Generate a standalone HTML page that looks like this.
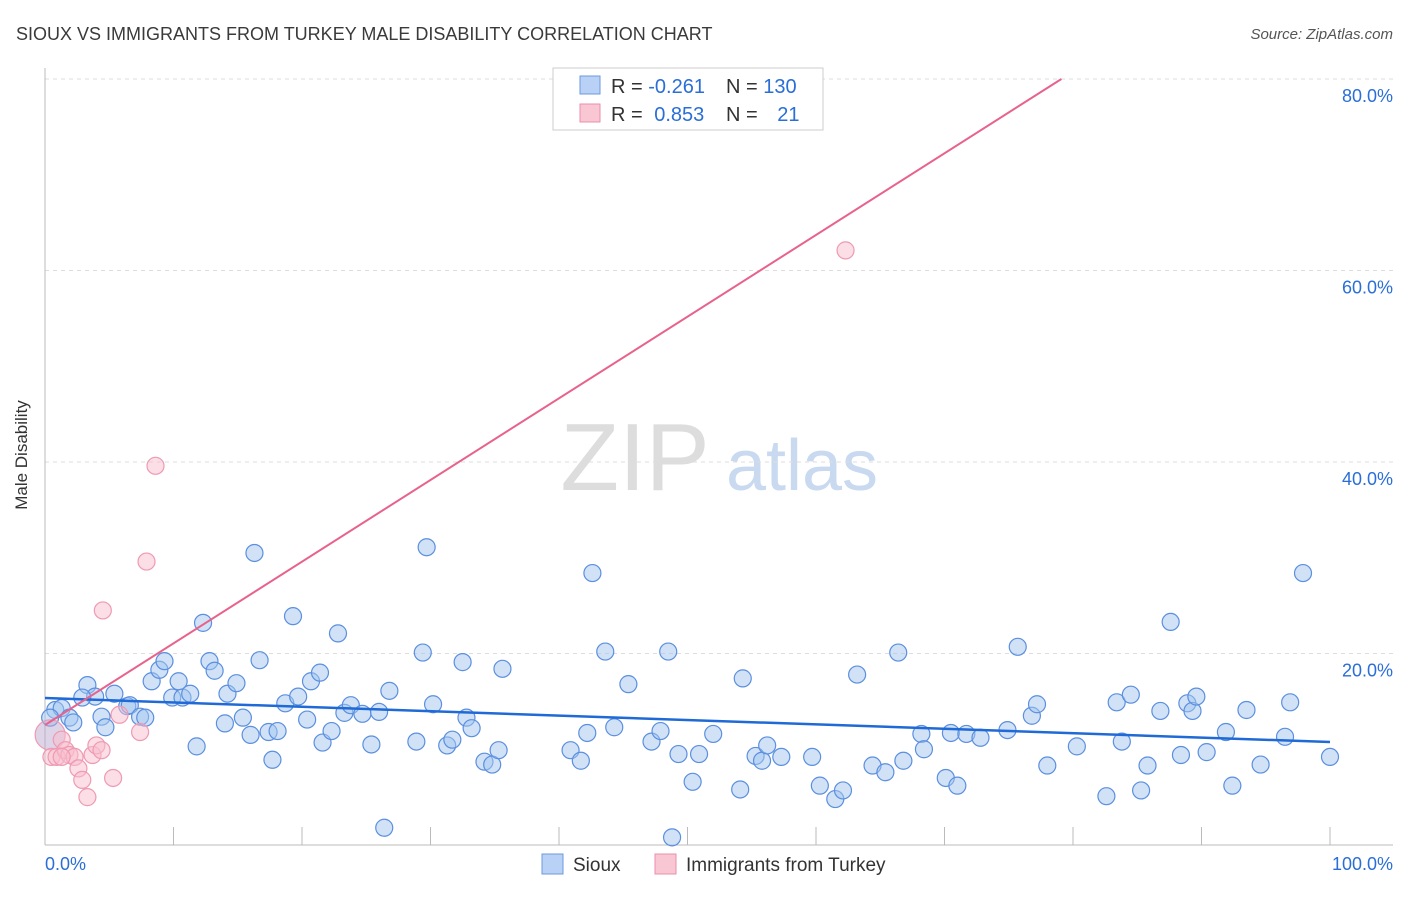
<!DOCTYPE html>
<html><head><meta charset="utf-8"><style>
body{margin:0;background:#fff;font-family:"Liberation Sans",sans-serif}
svg text{font-family:"Liberation Sans",sans-serif}
</style></head><body>
<svg id="chart" width="1406" height="892">
<text x="16" y="40" font-size="18" fill="#3a3a3a">SIOUX VS IMMIGRANTS FROM TURKEY MALE DISABILITY CORRELATION CHART</text>
<text x="1393" y="39" font-size="15" fill="#555" font-style="italic" text-anchor="end">Source: ZipAtlas.com</text>
<g>
<text x="635" y="490" font-size="96" font-family="Liberation Serif" fill="#ddd" text-anchor="middle">ZIP</text>
<text x="802" y="490" font-size="72" fill="#c8d9f0" text-anchor="middle">atlas</text></g>
<g id="grid"></g><g id="axes"></g><g id="pts"></g><g id="lines"></g>
<text x="27" y="455" font-size="17" fill="#333" text-anchor="middle" transform="rotate(-90 27 455)">Male Disability</text>
<g>
<rect x="553" y="68" width="270" height="62" fill="#fff" stroke="#ccc"/>
<rect x="580" y="76" width="20" height="18" fill="#b8d1f5" stroke="#6b9ae0"/>
<rect x="580" y="104" width="20" height="18" fill="#f9c6d4" stroke="#ea8fab"/>
<text x="611" y="93" font-size="20" fill="#333">R = <tspan fill="#2a6ed8">-0.261</tspan></text>
<text x="726" y="93" font-size="20" fill="#333">N = <tspan fill="#2a6ed8">130</tspan></text>
<text x="611" y="121" font-size="20" fill="#333">R = <tspan fill="#2a6ed8" dx="6">0.853</tspan></text>
<text x="726" y="121" font-size="20" fill="#333">N = <tspan fill="#2a6ed8" dx="14">21</tspan></text>
</g>
<g>
<rect x="542" y="854" width="21" height="20" fill="#b8d1f5" stroke="#6b9ae0"/>
<text x="573" y="871" font-size="19" fill="#333">Sioux</text>
<rect x="655" y="854" width="21" height="20" fill="#f9c6d4" stroke="#ea8fab"/>
<text x="686" y="871" font-size="19" fill="#333">Immigrants from Turkey</text>
</g>
</svg>
<script>
const blueX=[0.8,1.3,1.9,2.2,3.3,3.9,2.9,4.4,4.7,5.4,6.4,6.6,7.4,7.8,8.3,8.9,9.3,9.9,10.4,10.7,11.3,11.8,12.3,12.8,13.2,14.0,14.2,14.9,15.4,16.0,16.3,16.7,17.4,17.7,18.1,18.7,19.3,19.7,20.4,20.7,21.4,21.6,22.3,22.8,23.3,23.8,24.7,25.4,26.0,26.8,26.4,28.9,29.4,29.7,30.2,31.3,31.7,32.5,32.8,33.2,34.2,34.8,35.3,35.6,40.9,41.7,42.2,42.6,43.6,44.3,45.4,47.2,47.9,48.5,48.8,49.3,50.4,50.9,52.0,54.1,54.3,55.3,55.8,56.2,57.3,59.7,60.3,61.5,62.1,63.2,64.4,65.4,66.4,66.8,68.2,68.4,70.1,71.0,70.5,71.7,72.8,74.9,75.7,76.8,77.2,78.0,80.3,82.6,83.4,83.8,84.5,85.3,85.8,86.8,87.6,88.4,88.9,89.3,89.6,90.4,91.9,92.4,93.5,94.6,96.5,96.9,97.9,100,0.4];
const blueY=[14.1,14.3,13.3,12.8,16.7,15.5,15.4,13.4,12.3,15.8,14.5,14.6,13.4,13.3,17.1,18.3,19.2,15.4,17.1,15.4,15.8,10.3,23.2,19.2,18.2,12.7,15.8,16.9,13.3,11.5,30.5,19.3,11.8,8.9,11.9,14.8,23.9,15.5,13.1,17.1,18.0,10.7,11.9,22.1,13.8,14.6,13.7,10.5,13.9,16.1,1.8,10.8,20.1,31.1,14.7,10.4,11.0,19.1,13.3,12.2,8.7,8.4,9.9,18.4,9.9,8.8,11.7,28.4,20.2,12.3,16.8,10.8,11.9,20.2,0.8,9.5,6.6,9.5,11.6,5.8,17.4,9.3,8.8,10.4,9.2,9.2,6.2,4.8,5.7,17.8,8.3,7.6,20.1,8.8,11.6,10.0,7.0,6.2,11.7,11.6,11.2,12.0,20.7,13.5,14.7,8.3,10.3,5.1,14.9,10.8,15.7,5.7,8.3,14.0,23.3,9.4,14.8,14.0,15.5,9.7,11.8,6.2,14.1,8.4,11.3,14.9,28.4,9.2,13.3];
const pinkX=[0.4,0.5,0.9,1.3,1.6,1.9,2.3,2.6,2.9,3.3,3.7,4.0,4.4,4.5,5.3,5.8,7.4,7.9,8.6,62.3,1.3];
const pinkY=[11.5,9.2,9.2,11.0,9.9,9.4,9.2,8.0,6.8,5.0,9.4,10.4,9.9,24.5,7.0,13.6,11.8,29.6,39.6,62.1,9.2];
const yTicks=[20,40,60,80];
const blueTrend=[15.35,10.76];
const pinkTrend=[12.53,0.853];
const NS='http://www.w3.org/2000/svg';
const X=v=>45+v*12.85, Y=v=>845-v*9.575;
function mk(tag,attrs,parent){const e=document.createElementNS(NS,tag);for(const k in attrs)e.setAttribute(k,attrs[k]);parent.appendChild(e);return e;}
const grid=document.getElementById('grid'),axes=document.getElementById('axes'),pts=document.getElementById('pts'),lines=document.getElementById('lines');
yTicks.forEach(t=>{
 const l=mk('line',{x1:45,x2:1393,y1:Y(t),y2:Y(t),stroke:'#ddd','stroke-dasharray':'4,4'},grid);
 
 
 const tx=mk('text',{x:1393,y:Y(t)+23,'font-size':18,fill:'#2a6ed8','text-anchor':'end'},grid);
 tx.textContent=t.toFixed(1)+'%';
 
 
});
const ya=mk('line',{x1:45,x2:45,y1:68,y2:845,stroke:'#bbb'},axes);


const xa=mk('line',{x1:45,x2:1393,y1:845,y2:845,stroke:'#bbb'},axes);


for(let i=1;i<=10;i++){const t=mk('line',{x1:X(i*10),x2:X(i*10),y1:827,y2:845,stroke:'#bbb'},axes);
 
 }
const x0=mk('text',{x:45,y:870,'font-size':18,fill:'#2a6ed8'},axes);x0.textContent='0.0%';


const x1=mk('text',{x:1393,y:870,'font-size':18,fill:'#2a6ed8','text-anchor':'end'},axes);x1.textContent='100.0%';


blueX.forEach((v,i)=>{const c=mk('circle',{cx:X(v),cy:Y(blueY[i]),r:8.5,fill:'rgba(164,198,240,0.5)',stroke:'#5b8fdf','stroke-width':1.2},pts);
 
 });
pinkX.forEach((v,i)=>{const c=mk('circle',{cx:X(v),cy:Y(pinkY[i]),r:i===0?15:8.5,fill:i===0?'rgba(190,170,210,0.5)':'rgba(248,190,205,0.5)',stroke:'#ee9ab2','stroke-width':1.2},pts);
 
 });
const bl=mk('line',{x1:X(0),y1:Y(blueTrend[0]),x2:X(100),y2:Y(blueTrend[1]),stroke:'#1f6ad6','stroke-width':2.5},lines);


const xe=(80-pinkTrend[0])/pinkTrend[1];
const pl=mk('line',{x1:X(0),y1:Y(pinkTrend[0]),x2:X(xe),y2:Y(80),stroke:'#e8628c','stroke-width':2},lines);


const topGrid=mk('line',{x1:45,x2:1393,y1:79,y2:79,stroke:'#ddd','stroke-dasharray':'4,4'},grid);


</script>
</body></html>
